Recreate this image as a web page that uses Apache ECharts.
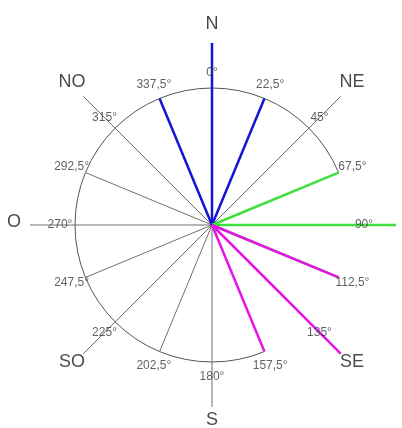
<!DOCTYPE html>
<html lang="en">
<head>
<meta charset="UTF-8">
<title>Rosa dos ventos</title>
<script src="https://cdn.jsdelivr.net/npm/echarts@6/dist/echarts.min.js"></script>
<style>
    html, body { margin: 0; padding: 0; background: #fff; }
    #main { width: 402px; height: 428px; }
</style>
</head>
<body>
<div id="main"></div>
<script>
    // direções em graus, sentido horário a partir do norte
    var angles = [0, 22.5, 45, 67.5, 90, 112.5, 135, 157.5, 180, 202.5, 225, 247.5, 270, 292.5, 315, 337.5];
    var degreeLabels = ['0°', '22,5°', '45°', '67,5°', '90°', '112,5°', '135°', '157,5°',
        '180°', '202,5°', '225°', '247,5°', '270°', '292,5°', '315°', '337,5°'];
    var spokeValues = [182, 137, 182, 137, 184, 137, 182, 137, 182, 137, 182, 137, 182, 137, 182, 137];
    var cardinalNames = ['N', 'NE', 'E', 'SE', 'S', 'SO', 'O', 'NO'];
    var cardinalAngles = [0, 45, 90, 135, 180, 225, 270, 315];
    var blueDirs = [337.5, 0, 22.5];
    var greenDirs = [67.5, 90, 112.5];
    var magentaDirs = [112.5, 135, 157.5];
    var arcRange = [157.5, 427.5];   // arco de 157,5° até 67,5° (passando pelo norte)
    var arcValue = 137;
    var labelValue = 152;
    var nameValue = 198;

    var font = 'Liberation Sans, Arial, sans-serif';

    function spokeSeries(dirs, color, width) {
        return {
            type: 'custom',
            coordinateSystem: 'polar',
            silent: true,
            data: dirs.map(function (a) {
                return [spokeValues[angles.indexOf(a)], a];
            }),
            renderItem: function (params, api) {
                var p0 = api.coord([0, api.value(1)]);
                var p1 = api.coord([api.value(0), api.value(1)]);
                return {
                    type: 'line',
                    shape: {x1: p0[0], y1: p0[1], x2: p1[0], y2: p1[1]},
                    style: {stroke: color, lineWidth: width}
                };
            }
        };
    }

    function labelSeries(values, names, color, size, dy) {
        return {
            type: 'scatter',
            coordinateSystem: 'polar',
            symbolSize: 0,
            silent: true,
            clip: false,
            data: values.map(function (a, i) {
                return {value: [names.r, a], name: names.text[i]};
            }),
            label: {show: true, position: 'inside', offset: [0, dy], formatter: '{b}',
                color: color, fontSize: size, fontFamily: font}
        };
    }

    var chart = echarts.init(document.getElementById('main'));
    chart.setOption({
        animation: false,
        polar: {center: [212, 225], radius: 210},
        radiusAxis: {min: 0, max: 210, show: false},
        angleAxis: {type: 'value', min: 0, max: 360, startAngle: 90, clockwise: true, show: false},
        series: [
            // arco
            {
                type: 'custom',
                coordinateSystem: 'polar',
                silent: true,
                data: [[arcValue, arcRange[0], arcRange[1]]],
                renderItem: function (params, api) {
                    var c = api.coord([0, 0]);
                    var e = api.coord([api.value(0), 90]);
                    var r = e[0] - c[0];
                    var toRad = function (a) { return (a - 90) * Math.PI / 180; };
                    return {
                        type: 'arc',
                        shape: {cx: c[0], cy: c[1], r: r,
                            startAngle: toRad(api.value(1)), endAngle: toRad(api.value(2)), clockwise: true},
                        style: {stroke: '#555', fill: null, lineWidth: 1}
                    };
                }
            },
            spokeSeries(angles, '#6e6e6e', 1),
            spokeSeries(blueDirs, '#1414d2', 2.5),
            spokeSeries(greenDirs, '#3ee03e', 2.5),
            spokeSeries(magentaDirs, '#e614e6', 2.5),
            labelSeries(angles, {r: labelValue, text: degreeLabels}, '#3a3a3a', 12, 0),
            labelSeries(cardinalAngles, {r: nameValue, text: cardinalNames}, '#1a1a1a', 18, -3)
        ]
    });
</script>
</body>
</html>
